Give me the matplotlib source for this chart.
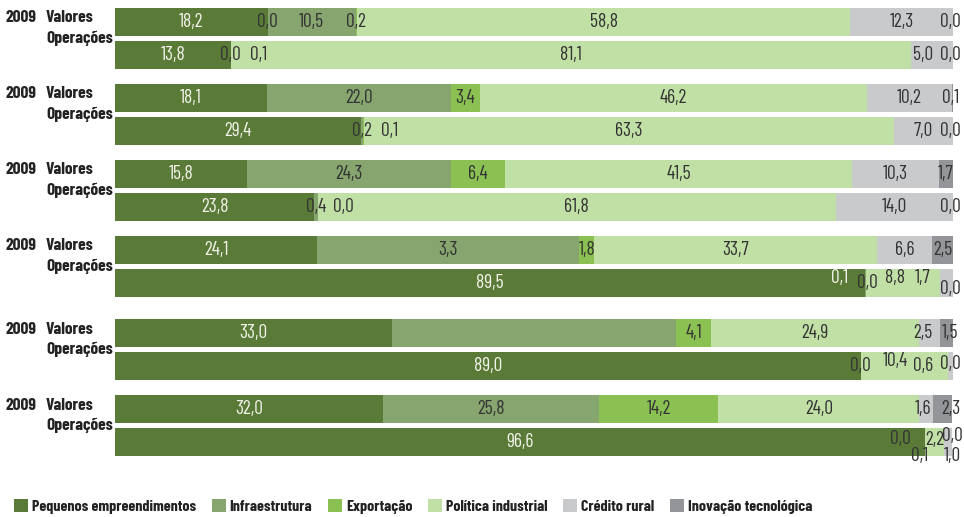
import numpy as np
import matplotlib.pyplot as plt
from matplotlib.patches import Patch

plt.rcParams['font.family'] = ['Barlow Condensed', 'DejaVu Sans']

# data (percent shares)
categories = ['Pequenos empreendimentos', 'Infraestrutura', 'Exportação',
              'Política industrial', 'Crédito rural', 'Inovação tecnológica']
colors = ['#5a7b37', '#87a56f', '#8bc153', '#c1e0a5', '#c9cacc', '#939598']
years = ['2009', '2009', '2009', '2009', '2009', '2009']
row_names = ['Valores', 'Operações']

valores = [
    [18.2, 10.5, 0.2, 58.8, 12.3, 0.0],
    [18.1, 22.0, 3.4, 46.2, 10.2, 0.1],
    [15.8, 24.3, 6.4, 41.5, 10.3, 1.7],
    [24.1, 31.3, 1.8, 33.7, 6.6, 2.5],
    [33.0, 34.0, 4.1, 24.9, 2.5, 1.5],
    [32.0, 25.8, 14.2, 24.0, 1.6, 2.3],
]
operacoes = [
    [13.8, 0.0, 0.1, 81.1, 5.0, 0.0],
    [29.4, 0.2, 0.1, 63.3, 7.0, 0.0],
    [23.8, 0.4, 0.0, 61.8, 14.0, 0.0],
    [89.5, 0.1, 0.0, 8.8, 1.7, 0.0],
    [89.0, 0.0, 0.0, 10.4, 0.6, 0.0],
    [96.6, 0.0, 0.1, 2.2, 1.0, 0.0],
]

# label text as printed in the source (group, row, category)
label_text = {(3, 0, 1): '3,3', (4, 0, 1): '', (4, 1, 2): ''}
extra_labels = [(0, 0, 1, '0,0')]  # stray label at start of a segment

# label nudges in pixels (dx, dy; dy > 0 moves down)
nudges = {
    (3, 1, 1): (0, -5), (3, 1, 3): (0, -5), (3, 1, 4): (0, -5), (3, 1, 5): (0, 6),
    (4, 1, 3): (0, -5), (4, 1, 5): (0, -2),
    (5, 1, 1): (-24, -3), (5, 1, 2): (-5, 14), (5, 1, 3): (0, -2),
    (5, 1, 4): (4, 14), (5, 1, 5): (0, -6),
}
manual_bars = {(5, 1)}
light_labels = {(3, 1, 1)}

DARK = '#333333'
LIGHT = '#f2f2ea'


def fmt(v):
    return f"{v:.1f}".replace('.', ',')


def spread(pos, gap=3.3, right=99.7):
    p = list(pos)
    for i in range(1, len(p)):
        p[i] = max(p[i], p[i - 1] + gap)
    if p and p[-1] > right:
        p[-1] = right
    for i in range(len(p) - 2, -1, -1):
        p[i] = min(p[i], p[i + 1] - gap)
    return p


fig = plt.figure(figsize=(9.64, 5.17), dpi=100)
ax = fig.add_axes([115 / 964, 0, 838 / 964, 1])
ax.set_xlim(0, 100)
ax.set_ylim(517, 0)
ax.axis('off')

bar_h = 28
for g in range(len(valores)):
    yv = 22 + 76 * g + (7 if g >= 4 else 0)
    rows = [(yv, valores[g]), (yv + 33, operacoes[g])]

    head = dict(xycoords=('figure fraction', 'data'), fontsize=12.5, fontweight='bold',
                va='center', ha='left', color='#222222')
    ax.annotate(years[g], xy=(5 / 964, yv - 4), **head)
    ax.annotate(row_names[0], xy=(46 / 964, yv - 4), **head)
    ax.annotate(row_names[1], xy=(46 / 964, yv + 16), **head)

    for r, (y, vals) in enumerate(rows):
        vals = np.array(vals)
        lefts = np.concatenate([[0], np.cumsum(vals)[:-1]])
        for k in range(len(categories)):
            if vals[k] > 0:
                ax.barh(y, vals[k], left=lefts[k], height=bar_h, color=colors[k], linewidth=0)

        labels = []
        for k in range(len(categories)):
            txt = label_text.get((g, r, k), fmt(vals[k]))
            if txt:
                labels.append((lefts[k] + vals[k] / 2, txt, k))
        for (eg, er, ek, etxt) in extra_labels:
            if eg == g and er == r:
                labels.append((lefts[ek], etxt, -1))
        labels.sort(key=lambda t: t[0])

        if (g, r) in manual_bars:
            xs = [t[0] for t in labels]
        else:
            xs = spread([t[0] for t in labels])

        for x, (_, txt, k) in zip(xs, labels):
            dx, dy = nudges.get((g, r, k), (0, 0))
            light = k == 0 or (g, r, k) in light_labels
            ax.annotate(txt, xy=(x, y), xytext=(dx, -dy), textcoords='offset pixels',
                        ha='center', va='center', fontsize=14,
                        color=LIGHT if light else DARK)

handles = [Patch(facecolor=c, edgecolor='none') for c in colors]
leg = fig.legend(handles, categories, loc='lower left', bbox_to_anchor=(0.0, -0.022),
                 ncol=6, frameon=False, handlelength=0.85, handleheight=0.85,
                 handletextpad=0.25, columnspacing=1.0,
                 prop={'weight': 'bold', 'size': 11.5})
for t in leg.get_texts():
    t.set_color('#222222')

fig.savefig('out.png', dpi=100)
